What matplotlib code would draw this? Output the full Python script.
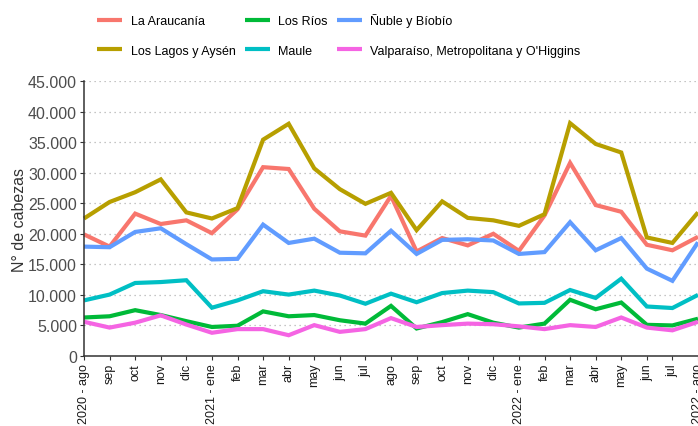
"""
Existencias mensuales por región (N° de cabezas), ago 2020 - ago 2022
"""

import matplotlib
matplotlib.use('Agg')
import matplotlib.pyplot as plt
from matplotlib.ticker import FuncFormatter

plt.rcParams['font.family'] = ['Liberation Sans', 'DejaVu Sans']

# Data
months = ['2020 - ago', 'sep', 'oct', 'nov', 'dic',
          '2021 - ene', 'feb', 'mar', 'abr', 'may', 'jun', 'jul', 'ago',
          'sep', 'oct', 'nov', 'dic',
          '2022 - ene', 'feb', 'mar', 'abr', 'may', 'jun', 'jul', '2022 - ago']

araucania = [19900, 17900, 23300, 21600, 22200, 20100, 24000, 30900, 30600, 24100,
             20400, 19700, 26200, 17100, 19300, 18100, 20000, 17200, 23000, 31600,
             24700, 23600, 18200, 17300, 19500]
lagos_aysen = [22500, 25200, 26800, 28900, 23500, 22500, 24200, 35400, 38000, 30700,
               27300, 24900, 26700, 20600, 25300, 22600, 22200, 21300, 23200, 38100,
               34700, 33300, 19400, 18500, 23500]
los_rios = [6300, 6500, 7500, 6700, 5700, 4750, 4950, 7300, 6500, 6700,
            5850, 5300, 8200, 4500, 5550, 6850, 5450, 4650, 5300, 9200,
            7650, 8750, 5100, 5000, 6100]
maule = [9100, 10050, 11950, 12100, 12400, 7900, 9100, 10600, 10050, 10700,
         9900, 8550, 10200, 8800, 10300, 10700, 10450, 8600, 8700, 10800,
         9500, 12650, 8100, 7850, 10000]
nuble_biobio = [17900, 17800, 20300, 20900, 18300, 15800, 15900, 21500, 18500, 19200,
                16900, 16800, 20500, 16700, 19000, 19100, 18900, 16700, 17000, 21900,
                17300, 19300, 14300, 12300, 18600]
valparaiso = [5600, 4650, 5450, 6650, 5150, 3800, 4400, 4400, 3400, 5050,
              3950, 4400, 6200, 4750, 5050, 5300, 5200, 4850, 4400, 5050,
              4750, 6300, 4650, 4200, 5600]

series = [
    ('La Araucanía', araucania, '#F8766D'),
    ('Los Lagos y Aysén', lagos_aysen, '#B79F00'),
    ('Los Ríos', los_rios, '#00BA38'),
    ('Maule', maule, '#00BFC4'),
    ('Ñuble y Bíobío', nuble_biobio, '#619CFF'),
    ('Valparaíso, Metropolitana y O\'Higgins', valparaiso, '#F564E3'),
]

fig = plt.figure(figsize=(6.98, 4.27), dpi=100)
ax = fig.add_axes([84 / 698, 1 - 357 / 427, 1 - 84 / 698, (357 - 82) / 427])

x = list(range(len(months)))
for name, vals, color in series:
    ax.plot(x, vals, color=color, linewidth=3, label=name, solid_joinstyle='miter',
            solid_capstyle='butt', clip_on=False)

ax.set_xlim(0, len(months) - 1)
ax.set_ylim(0, 45000)
ax.set_yticks(range(0, 45001, 5000))
ax.yaxis.set_major_formatter(FuncFormatter(lambda v, p: f'{v:,.0f}'.replace(',', '.')))
ax.set_xticks(x)
ax.set_xticklabels(months, rotation=90, fontsize=9, color='#1a1a1a')

# Grid and spines
ax.grid(True, axis='y', color='#b3b3b3', linestyle=(0, (1, 3)), linewidth=0.9)
ax.set_axisbelow(True)
for side in ['top', 'right']:
    ax.spines[side].set_visible(False)
for side in ['left', 'bottom']:
    ax.spines[side].set_color('#333333')
    ax.spines[side].set_linewidth(1.1)

ax.tick_params(axis='y', labelsize=11.5, labelcolor='#4d4d4d', color='#333333',
               length=3, pad=2)
ax.tick_params(axis='x', color='#333333', length=3, pad=2)
ax.set_ylabel('N° de cabezas', fontsize=11.5, color='#333333', labelpad=0.5)

# Legend on top
fig.legend(loc='upper left', bbox_to_anchor=(86 / 698, 1 - 3 / 427), ncol=3,
           frameon=False, fontsize=9, handlelength=2.0, handletextpad=0.7,
           columnspacing=0.7, labelspacing=1.4)

plt.savefig('out.png', dpi=100)
plt.close()
